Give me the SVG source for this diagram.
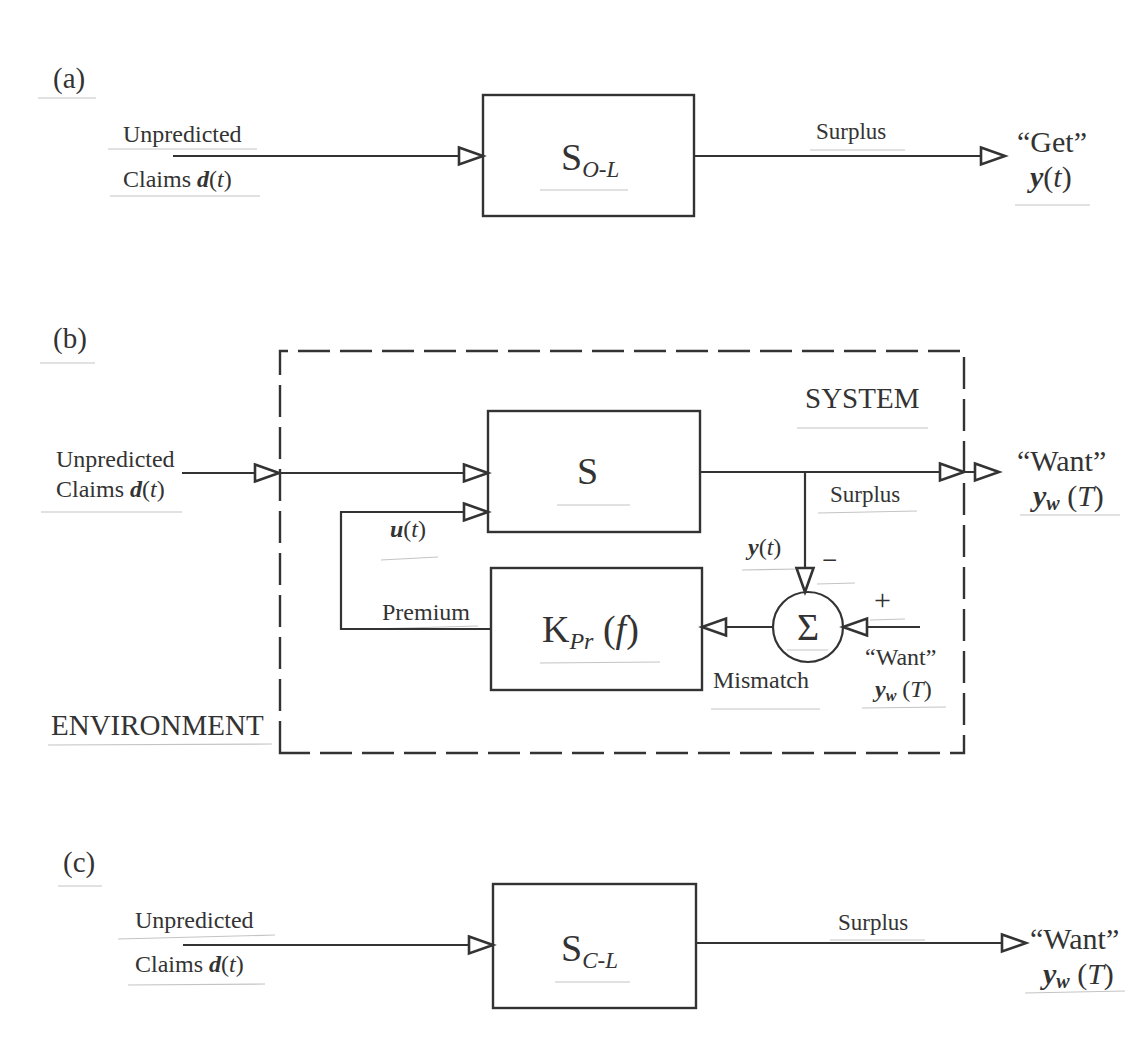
<svg xmlns="http://www.w3.org/2000/svg" width="1136" height="1057" viewBox="0 0 1136 1057">
<defs>
<marker id="arr" markerUnits="userSpaceOnUse" markerWidth="32" markerHeight="22" viewBox="-2 -11 32 22" refX="25" refY="0" orient="auto">
<path d="M1,-8.5 L25,0 L1,8.5 Z" fill="#fff" stroke="#333" stroke-width="2.6" stroke-linejoin="miter"/>
</marker>
</defs>
<style>
text{font-family:"Liberation Serif","Times New Roman",serif;fill:#333}
.box{fill:none;stroke:#333;stroke-width:2.4}
.ar{fill:none;stroke:#333;stroke-width:2.2;marker-end:url(#arr)}
.dash{fill:none;stroke:#333;stroke-width:2.4;stroke-dasharray:32 10}
.ul{stroke:#c4c4c4;stroke-width:1.2}
.hd{font-size:29px}
.lb{font-size:24px}
.sp{font-size:23px}
.out{font-size:30px}
.big{font-size:38px}
.it{font-style:italic}
.bi{font-style:italic;font-weight:bold}
</style>
<rect width="1136" height="1057" fill="#fff"/>

<g id="underlines">
<line class="ul" x1="38" y1="98" x2="96" y2="98"/>
<line class="ul" x1="108" y1="149" x2="257" y2="149"/>
<line class="ul" x1="110" y1="196" x2="260" y2="196"/>
<line class="ul" x1="540" y1="190" x2="628" y2="190"/>
<line class="ul" x1="810" y1="150" x2="905" y2="150"/>
<line class="ul" x1="1015" y1="205" x2="1090" y2="205"/>
<line class="ul" x1="40" y1="363" x2="95" y2="363"/>
<line class="ul" x1="41" y1="512" x2="182" y2="512"/>
<line class="ul" x1="557" y1="505" x2="630" y2="505"/>
<line class="ul" x1="797" y1="428" x2="928" y2="428"/>
<line class="ul" x1="818" y1="513" x2="917" y2="511"/>
<line class="ul" x1="742" y1="570" x2="800" y2="569"/>
<line class="ul" x1="817" y1="584" x2="855" y2="583"/>
<line class="ul" x1="1020" y1="515" x2="1120" y2="515"/>
<line class="ul" x1="381" y1="560" x2="438" y2="557"/>
<line class="ul" x1="370" y1="629" x2="478" y2="626"/>
<line class="ul" x1="540" y1="663" x2="660" y2="662"/>
<line class="ul" x1="787" y1="650" x2="828" y2="650"/>
<line class="ul" x1="870" y1="620" x2="905" y2="619"/>
<line class="ul" x1="711" y1="709" x2="820" y2="709"/>
<line class="ul" x1="862" y1="708" x2="946" y2="707"/>
<line class="ul" x1="48" y1="745" x2="272" y2="744"/>
<line class="ul" x1="58" y1="886" x2="102" y2="886"/>
<line class="ul" x1="118" y1="939" x2="275" y2="935"/>
<line class="ul" x1="128" y1="985" x2="265" y2="984"/>
<line class="ul" x1="555" y1="982" x2="630" y2="982"/>
<line class="ul" x1="830" y1="940" x2="925" y2="940"/>
<line class="ul" x1="1025" y1="993" x2="1125" y2="991"/>
</g>

<g id="panel-a">
<text class="hd" x="53" y="88">(a)</text>
<text class="lb" x="123" y="142">Unpredicted</text>
<text class="lb" x="123" y="187">Claims  <tspan class="bi">d</tspan>(<tspan class="it">t</tspan>)</text>
<text class="sp" x="816" y="139">Surplus</text>
<text class="out" x="1017" y="152">“Get”</text>
<text class="out" x="1030" y="187"><tspan class="bi">y</tspan>(<tspan class="it">t</tspan>)</text>
</g>
<g id="node-SOL">
<rect class="box" x="483" y="95" width="211" height="121"/>
<text class="big" x="561" y="170">S<tspan class="it" font-size="23" dy="7">O-L</tspan></text>
</g>

<g id="panel-b">
<text class="hd" x="53" y="348">(b)</text>
<text class="lb" x="56" y="467">Unpredicted</text>
<text class="lb" x="56" y="497">Claims <tspan class="bi">d</tspan>(<tspan class="it">t</tspan>)</text>
<text class="hd" x="805" y="408">SYSTEM</text>
<text class="sp" x="830" y="502">Surplus</text>
<text class="lb" x="748" y="555"><tspan class="bi">y</tspan>(<tspan class="it">t</tspan>)</text>
<text font-size="27" x="822" y="569">−</text>
<text font-size="30" x="874" y="610">+</text>
<text class="out" x="1017" y="471">“Want”</text>
<text class="out" x="1033" y="506"><tspan class="bi">y</tspan><tspan class="bi" font-size="20" dy="4">w</tspan><tspan dy="-4"> (</tspan><tspan class="it">T</tspan>)</text>
<text class="lb" x="390" y="537"><tspan class="bi">u</tspan>(<tspan class="it">t</tspan>)</text>
<text class="lb" x="382" y="620">Premium</text>
<text class="lb" x="713" y="688">Mismatch</text>
<text class="lb" x="865" y="665">“Want”</text>
<text class="lb" x="875" y="697"><tspan class="bi">y</tspan><tspan class="bi" font-size="16" dy="4">w</tspan><tspan dy="-4"> (</tspan><tspan class="it">T</tspan>)</text>
<text class="hd" x="51" y="735">ENVIRONMENT</text>
<path id="env-boundary" class="dash" d="M280,753 L280,351 L964,351 L964,753 Z"/>
</g>
<g id="node-S">
<rect class="box" x="488" y="411" width="212" height="121"/>
<text class="big" x="577" y="484">S</text>
</g>
<g id="node-K">
<rect class="box" x="491" y="568" width="211" height="122"/>
<text class="big" x="542" y="642">K<tspan class="it" font-size="24" dy="7">Pr</tspan><tspan dy="-7"> (</tspan><tspan class="it">f</tspan>)</text>
</g>
<g id="node-sum">
<circle cx="808" cy="627" r="35" fill="none" stroke="#333" stroke-width="2.2"/>
<text class="big" x="808" y="640" text-anchor="middle">Σ</text>
</g>

<g id="panel-c">
<text class="hd" x="63" y="872">(c)</text>
<text class="lb" x="135" y="928">Unpredicted</text>
<text class="lb" x="135" y="972">Claims  <tspan class="bi">d</tspan>(<tspan class="it">t</tspan>)</text>
<text class="sp" x="838" y="930">Surplus</text>
<text class="out" x="1030" y="949">“Want”</text>
<text class="out" x="1043" y="984"><tspan class="bi">y</tspan><tspan class="bi" font-size="20" dy="4">w</tspan><tspan dy="-4"> (</tspan><tspan class="it">T</tspan>)</text>
</g>
<g id="node-SCL">
<rect class="box" x="493" y="884" width="203" height="124"/>
<text class="big" x="561" y="961">S<tspan class="it" font-size="23" dy="7">C-L</tspan></text>
</g>

<g id="connectors">
<line class="ar" x1="173" y1="156" x2="483" y2="156"/>
<line class="ar" x1="694" y1="156" x2="1005" y2="156"/>
<line class="ar" x1="182" y1="473" x2="279" y2="473"/>
<line class="ar" x1="279" y1="473" x2="488" y2="473"/>
<polyline class="ar" points="491,629 341,629 341,512 488,512"/>
<line class="ar" x1="700" y1="472" x2="964" y2="472"/>
<line class="ar" x1="964" y1="472" x2="999" y2="472"/>
<line class="ar" x1="805" y1="472" x2="805" y2="592"/>
<line class="ar" x1="920" y1="627" x2="843" y2="627"/>
<line class="ar" x1="773" y1="627" x2="702" y2="627"/>
<line class="ar" x1="183" y1="945" x2="493" y2="945"/>
<line class="ar" x1="696" y1="943" x2="1026" y2="943"/>
</g>
</svg>
